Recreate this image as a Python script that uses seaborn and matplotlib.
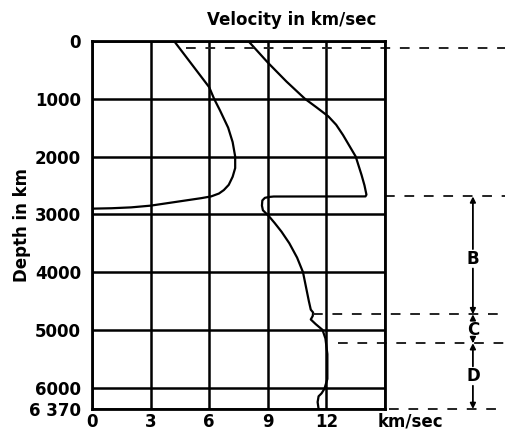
import matplotlib
matplotlib.use("Agg")
import matplotlib.pyplot as plt
import seaborn as sns
import pandas as pd

# ---- data ----
s_depth = [0, 200, 400, 600, 800, 1000, 1200, 1500, 1750, 2000, 2200, 2350, 2490, 2580, 2640, 2690, 2720,
           2760, 2800, 2850, 2880, 2895, 2902]
s_vel   = [4.2, 4.65, 5.1, 5.55, 6.0, 6.25, 6.55, 6.97, 7.2, 7.33, 7.33, 7.2, 7.0, 6.75, 6.5, 6.1, 5.6,
           4.8, 4.0, 3.0, 2.0, 1.0, 0.0]

p_depth = [0, 373, 700, 1000, 1150, 1305, 1450, 1627, 2000, 2320, 2500, 2660, 2690, 2692, 2700, 2715, 2760,
           2850, 2930, 2980, 3030, 3150, 3300, 3500, 3750, 4000, 4250, 4500, 4650, 4700, 4760, 4820, 4900,
           5000, 5150, 5420, 5850, 6020, 6100, 6150, 6250, 6370]
p_vel   = [8.0, 9.0, 9.95, 10.9, 11.5, 12.1, 12.5, 12.85, 13.5, 13.8, 13.95, 14.05, 14.0, 9.3, 9.05, 8.85, 8.72,
           8.7, 8.75, 8.9, 9.05, 9.35, 9.7, 10.1, 10.5, 10.8, 10.95, 11.1, 11.2, 11.32, 11.3, 11.2, 11.45,
           11.8, 11.95, 12.05, 12.05, 11.9, 11.75, 11.6, 11.55, 11.6]

y_ticks = [0, 1000, 2000, 3000, 4000, 5000, 6000, 6370]
y_labels = ["0", "1000", "2000", "3000", "4000", "5000", "6000", "6 370"]
x_ticks = [0, 3, 6, 9, 12]
x_labels = ["0", "3", "6", "9", "12"]

# boundary dashed lines: (depth, start velocity)
bound_depth = [120, 2690, 4730, 5230, 6370]
bound_start = [4.8, 15.0, 11.32, 12.6, 15.2]
zone_labels = ["B", "C", "D"]
zone_pos = [3770, 5000, 5800]

sns.set_style("white")
plt.rcParams['font.family'] = ['DejaVu Sans']
plt.rcParams['font.weight'] = 'bold'
plt.rcParams['text.color'] = 'black'
plt.rcParams['xtick.color'] = 'black'
plt.rcParams['ytick.color'] = 'black'

fig = plt.figure(figsize=(5.06, 4.33), dpi=100)
ax = fig.add_axes([92/506, 1-409/433, (385-92)/506, (409-41)/433])

s_df = pd.DataFrame({"depth": s_depth, "vel": s_vel})
p_df = pd.DataFrame({"depth": p_depth, "vel": p_vel})
sns.lineplot(data=s_df, x="vel", y="depth", sort=False, estimator=None, color="black", lw=1.6, ax=ax)
sns.lineplot(data=p_df, x="vel", y="depth", sort=False, estimator=None, color="black", lw=1.6, ax=ax)
for ln in ax.lines:
    ln.set_solid_joinstyle('round')
    ln.set_solid_capstyle('round')

ax.set_xlim(0, 15)
ax.set_ylim(6370, 0)
ax.set_xticks(x_ticks + [15])
ax.set_xticklabels(x_labels + [""])
ax.set_yticks(y_ticks)
ax.set_yticklabels(y_labels)
ax.tick_params(axis='both', length=0, labelsize=12, labelcolor='black')
ax.tick_params(axis='y', pad=8)
ax.tick_params(axis='x', pad=3)
for lab in ax.get_xticklabels() + ax.get_yticklabels():
    lab.set_fontweight('bold')
ax.grid(True, color="black", lw=1.8)
for sp in ax.spines.values():
    sp.set_visible(True)
    sp.set_color("black")
    sp.set_linewidth(2)
ax.set_xlabel("")
ax.set_ylabel("")

# dashed boundaries
for d, x0 in zip(bound_depth, bound_start):
    ax.plot([x0, 21.5], [d, d], color="#222222", lw=1.4, ls=(0, (5, 5)), clip_on=False)

# zone arrows
xa = 19.5
arrowkw = dict(arrowstyle='-|>', color="black", lw=1.3, mutation_scale=8, shrinkA=7, shrinkB=0)
for lab, yc in zip(zone_labels, zone_pos):
    ax.text(xa, yc, lab, ha='center', va='center', fontsize=12, fontweight='bold', color='black', clip_on=False)
ax.annotate("", xy=(xa, 2690), xytext=(xa, 3770), arrowprops=arrowkw, annotation_clip=False)
ax.annotate("", xy=(xa, 4730), xytext=(xa, 3770), arrowprops=arrowkw, annotation_clip=False)
ax.annotate("", xy=(xa, 4730), xytext=(xa, 5000), arrowprops=arrowkw, annotation_clip=False)
ax.annotate("", xy=(xa, 5230), xytext=(xa, 5000), arrowprops=arrowkw, annotation_clip=False)
ax.annotate("", xy=(xa, 5230), xytext=(xa, 5800), arrowprops=arrowkw, annotation_clip=False)
ax.annotate("", xy=(xa, 6370), xytext=(xa, 5800), arrowprops=arrowkw, annotation_clip=False)

# texts
fig.text(292/506, 1-20/433, "Velocity in km/sec", ha='center', va='center', fontsize=12, fontweight='bold', color='black')
fig.text(22/506, 1-225/433, "Depth in km", ha='center', va='center', rotation=90, fontsize=12, fontweight='bold', color='black')
fig.text(410/506, 1-422/433, "km/sec", ha='center', va='center', fontsize=12, fontweight='bold', color='black')

fig.savefig("out.png", dpi=100, facecolor="white")
